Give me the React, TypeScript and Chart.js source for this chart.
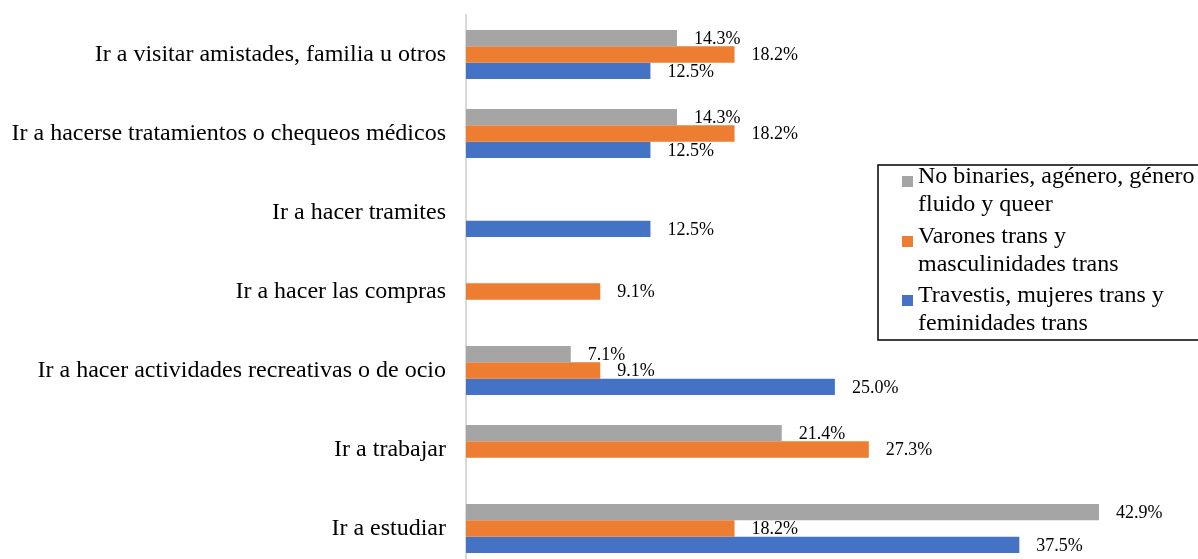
import React, { useEffect, useRef } from "react";
import { Chart, registerables } from "chart.js";

Chart.register(...registerables);

const categories = [
  "Ir a visitar amistades, familia u otros",
  "Ir a hacerse tratamientos o chequeos médicos",
  "Ir a hacer tramites",
  "Ir a hacer las compras",
  "Ir a hacer actividades recreativas o de ocio",
  "Ir a trabajar",
  "Ir a estudiar",
];

const noBinariesValues: (number | null)[] = [14.3, 14.3, null, null, 7.1, 21.4, 42.9];
const varonesValues: (number | null)[] = [18.2, 18.2, null, 9.1, 9.1, 27.3, 18.2];
const travestisValues: (number | null)[] = [12.5, 12.5, 12.5, null, 25.0, null, 37.5];

const seriesLabels = [
  "No binaries, agénero, género fluido y queer",
  "Varones trans y masculinidades trans",
  "Travestis, mujeres trans y feminidades trans",
];
const legendLines = [
  ["No binaries, agénero, género", "fluido y queer"],
  ["Varones trans y", "masculinidades trans"],
  ["Travestis, mujeres trans y", "feminidades trans"],
];
const seriesColors = ["#A5A5A5", "#ED7D31", "#4472C4"];

const FONT = "'Liberation Serif', 'Times New Roman', serif";

const dataLabelPlugin = {
  id: "dataLabels",
  afterDatasetsDraw(chart: any) {
    const ctx = chart.ctx;
    ctx.save();
    ctx.font = `18px ${FONT}`;
    ctx.fillStyle = "#000";
    ctx.textAlign = "left";
    ctx.textBaseline = "middle";
    chart.data.datasets.forEach((ds: any, di: number) => {
      const meta = chart.getDatasetMeta(di);
      meta.data.forEach((el: any, i: number) => {
        const v = ds.data[i];
        if (v === null || v === undefined) return;
        ctx.fillText(v.toFixed(1) + "%", el.x + 17, el.y + 1);
      });
    });
    ctx.restore();
  },
};

const boxLegendPlugin = {
  id: "boxLegend",
  afterDraw(chart: any) {
    const ctx = chart.ctx;
    ctx.save();
    const left = 878;
    const top = 165;
    const right = 1210;
    const bottom = 340;
    ctx.strokeStyle = "#000";
    ctx.lineWidth = 1.5;
    ctx.strokeRect(left, top, right - left, bottom - top);
    ctx.font = `24px ${FONT}`;
    ctx.textAlign = "left";
    ctx.textBaseline = "alphabetic";
    const firstBaselines = [183, 243, 302];
    legendLines.forEach((lines, i) => {
      const b = firstBaselines[i];
      ctx.fillStyle = seriesColors[i];
      ctx.fillRect(902, b - 7, 11, 11);
      ctx.fillStyle = "#000";
      lines.forEach((t, j) => {
        ctx.fillText(t, 918, b + j * 28);
      });
    });
    ctx.restore();
  },
};

export default function App() {
  const ref = useRef<HTMLCanvasElement>(null);
  useEffect(() => {
    if (!ref.current) return;
    const chart = new Chart(ref.current, {
      type: "bar",
      data: {
        labels: categories,
        datasets: [
          { label: seriesLabels[0], data: noBinariesValues, backgroundColor: seriesColors[0] },
          { label: seriesLabels[1], data: varonesValues, backgroundColor: seriesColors[1] },
          { label: seriesLabels[2], data: travestisValues, backgroundColor: seriesColors[2] },
        ],
      },
      options: {
        indexAxis: "y",
        animation: false,
        responsive: false,
        layout: { padding: { top: 15, right: 68, bottom: 2, left: 0 } },
        datasets: { bar: { categoryPercentage: 0.62, barPercentage: 1, borderWidth: 0 } },
        plugins: {
          legend: { display: false },
          tooltip: { enabled: false },
        },
        scales: {
          x: { display: false, min: 0, max: 45 },
          y: {
            grid: { display: false, drawTicks: false },
            border: { display: true, color: "#D9D9D9", width: 2 },
            ticks: { font: { family: FONT, size: 24 }, color: "#000", padding: 20 },
            afterFit(scale: any) {
              scale.width = 466;
              scale.paddingTop = 0;
              scale.paddingBottom = 0;
            },
          },
        },
      } as any,
      plugins: [dataLabelPlugin, boxLegendPlugin],
    });
    return () => chart.destroy();
  }, []);
  return (
    <div style={{ position: "absolute", left: 0, top: 0, width: 1198, height: 570 }}>
      <canvas ref={ref} width={1198} height={570} style={{ display: "block" }} />
    </div>
  );
}
